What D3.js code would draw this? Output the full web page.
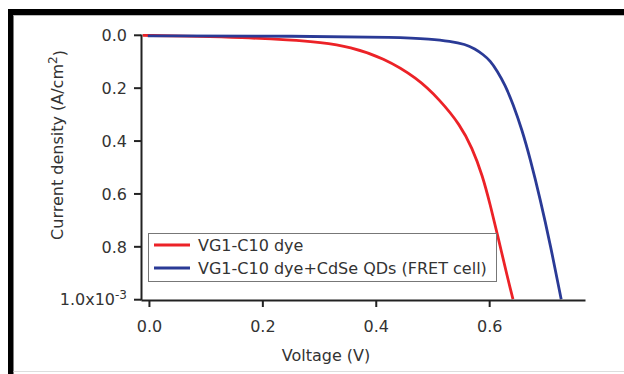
<!DOCTYPE html>
<html>
<head>
<meta charset="utf-8">
<script src="https://cdn.jsdelivr.net/npm/d3@7"></script>
<style>
  html, body { margin: 0; padding: 0; background: #fff; }
  svg { display: block; }
  text { font-family: "DejaVu Sans", sans-serif; fill: #333; }
</style>
</head>
<body>
<svg id="chart" width="624" height="374"></svg>
<script>
// J-V curves, voltage in V, current density in units of 1e-3 A/cm^2
const redV = [-0.011, 0.090, 0.161, 0.249, 0.302, 0.355, 0.413, 0.473, 0.513, 0.549, 0.570, 0.588, 0.602, 0.614, 0.633, 0.642]
const redJ = [0.002, 0.006, 0.010, 0.019, 0.028, 0.045, 0.087, 0.163, 0.246, 0.341, 0.428, 0.530, 0.644, 0.750, 0.924, 1.0]
const blueV = [-0.002, 0.266, 0.443, 0.496, 0.531, 0.558, 0.575, 0.589, 0.602, 0.614, 0.628, 0.642, 0.658, 0.672, 0.690, 0.708, 0.727]
const blueJ = [0.004, 0.005, 0.009, 0.016, 0.024, 0.036, 0.053, 0.074, 0.098, 0.136, 0.189, 0.261, 0.360, 0.466, 0.621, 0.795, 1.0]
const xTicks = [0, 0.2, 0.4, 0.6]
const yTicks = [0, 0.2, 0.4, 0.6, 0.8, 1.0]
const seriesNames = ['VG1-C10 dye', 'VG1-C10 dye+CdSe QDs (FRET cell)']
const seriesColors = ['#ec2227', '#2a3a96']

const svg = d3.select('#chart')

// frame
svg.append('rect').attr('x', 8).attr('y', 9).attr('width', 616).attr('height', 6).attr('fill', '#000')
svg.append('rect').attr('x', 8).attr('y', 9).attr('width', 5.5).attr('height', 365).attr('fill', '#000')
svg.append('line').attr('x1', 13.5).attr('x2', 624).attr('y1', 15.5).attr('y2', 15.5).attr('stroke', '#bbb')
svg.append('line').attr('x1', 13.5).attr('x2', 624).attr('y1', 371.5).attr('y2', 371.5).attr('stroke', '#ddd')

const x = d3.scaleLinear().domain([-0.014, 0.769]).range([141, 585])
const y = d3.scaleLinear().domain([-0.003, 1.003]).range([34, 300])

// curves
const line = d3.line()
  .x(d => x(d[0]))
  .y(d => y(d[1]))
  .curve(d3.curveBasis)

const redData = redV.map((v, i) => [v, redJ[i]])
const blueData = blueV.map((v, i) => [v, blueJ[i]])

svg.append('path').attr('d', line(redData))
  .attr('fill', 'none').attr('stroke', seriesColors[0]).attr('stroke-width', 2.8)
svg.append('path').attr('d', line(blueData))
  .attr('fill', 'none').attr('stroke', seriesColors[1]).attr('stroke-width', 2.8)

// axes
const xAxis = svg.append('g')
  .attr('transform', 'translate(0,300)')
  .call(d3.axisBottom(x).tickValues(xTicks).tickSize(7).tickSizeOuter(0).tickFormat(d3.format('.1f')))
xAxis.select('.domain').attr('stroke', '#222').attr('stroke-width', 2)
xAxis.selectAll('.tick line').attr('stroke', '#222').attr('stroke-width', 2)
xAxis.selectAll('.tick text')
  .attr('y', 0).attr('dy', null)
  .attr('transform', 'translate(0,32)')
  .style('font-size', '16px').style('font-family', '"DejaVu Sans", sans-serif').attr('fill', '#333')

const yAxis = svg.append('g')
  .attr('transform', 'translate(141,0)')
  .call(d3.axisLeft(y).tickValues(yTicks).tickSize(7).tickSizeOuter(0).tickFormat(d3.format('.1f')))
yAxis.select('.domain').attr('stroke', '#222').attr('stroke-width', 2)
yAxis.selectAll('.tick line').attr('stroke', '#222').attr('stroke-width', 2)
yAxis.selectAll('.tick text')
  .attr('x', -14).attr('dy', '0.36em')
  .style('font-size', '16px').style('font-family', '"DejaVu Sans", sans-serif').attr('fill', '#333')

// last y tick carries the 10^-3 multiplier
const lastTick = yAxis.selectAll('.tick text').filter(d => d === 1.0)
lastTick.text(null)
lastTick.append('tspan').text('1.0x10')
lastTick.append('tspan').text('-3').attr('dy', '-0.55em').style('font-size', '12px')

// axis titles
svg.append('text')
  .attr('x', 326).attr('y', 361)
  .attr('text-anchor', 'middle')
  .style('font-size', '16px')
  .text('Voltage (V)')

const yTitle = svg.append('text')
  .attr('transform', 'translate(63,145) rotate(-90)')
  .attr('text-anchor', 'middle')
  .style('font-size', '16px')
yTitle.append('tspan').text('Current density (A/cm')
yTitle.append('tspan').text('2').attr('dy', '-0.5em').style('font-size', '12px')
yTitle.append('tspan').text(')').attr('dy', '0.5em')

// legend
const legend = svg.append('g')
legend.append('rect')
  .attr('x', 148.5).attr('y', 233.5).attr('width', 348).attr('height', 48)
  .attr('fill', '#fff').attr('stroke', '#777').attr('stroke-width', 1)
seriesNames.forEach((name, i) => {
  const ly = 245 + i * 23
  legend.append('line')
    .attr('x1', 154).attr('x2', 190).attr('y1', ly).attr('y2', ly)
    .attr('stroke', seriesColors[i]).attr('stroke-width', 2.8)
  legend.append('text')
    .attr('x', 198).attr('y', ly + 6)
    .style('font-size', '16px')
    .text(name)
})
</script>
</body>
</html>
